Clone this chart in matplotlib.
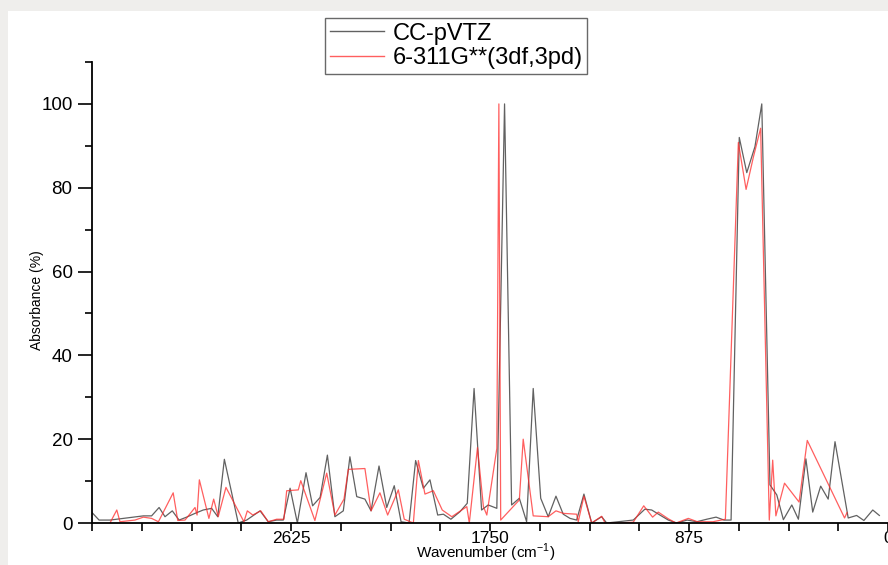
import matplotlib
matplotlib.use("Agg")
import matplotlib.pyplot as plt
from matplotlib.patches import Rectangle
from matplotlib.ticker import FixedLocator

plt.rcParams['font.family'] = ['Liberation Sans', 'DejaVu Sans']
plt.rcParams['mathtext.fontset'] = 'custom'
plt.rcParams['mathtext.rm'] = 'Liberation Sans'

# CC-pVTZ spectrum (wavenumber, absorbance %)
cc_wn = [3500, 3469, 3421, 3274, 3238, 3205, 3179, 3147, 3117, 3084, 3047, 3011, 2974, 2947,
         2918, 2857, 2820, 2761, 2725, 2688, 2659, 2629, 2597, 2559, 2530, 2497, 2465, 2432,
         2395, 2366, 2336, 2300, 2273, 2238, 2204, 2171, 2141, 2106, 2077, 2043, 2014, 1980,
         1955, 1922, 1882, 1850, 1820, 1787, 1758, 1720, 1686, 1655, 1621, 1589, 1560, 1527,
         1494, 1460, 1428, 1398, 1369, 1337, 1303, 1259, 1237, 1120, 1069, 1039, 1003, 966,
         929, 883, 841, 797, 756, 721, 690, 654, 621, 585, 555, 519, 489, 460, 423, 394, 361,
         331, 296, 263, 233, 175, 138, 106, 67, 38]
cc_ab = [2.5, 0.7, 0.7, 1.7, 1.7, 3.7, 1.5, 2.9, 0.7, 1.4, 2.3, 3.1, 3.5, 1.5,
         15.2, 0.0, 0.7, 2.9, 0.3, 0.7, 0.7, 8.3, 0.0, 12.0, 4.1, 6.1, 16.2, 1.5,
         2.9, 15.8, 6.3, 5.7, 2.9, 13.6, 3.7, 8.9, 0.3, 0.0, 14.9, 8.3, 10.3, 1.9,
         2.1, 0.9, 2.7, 4.7, 32.1, 3.1, 4.3, 3.5, 100.0, 4.3, 5.9, 0.3, 32.1, 5.9,
         1.5, 6.4, 2.1, 1.1, 0.7, 6.9, 0.0, 1.5, 0.0, 0.7, 3.3, 3.1, 1.9, 0.7,
         0.0, 0.7, 0.3, 0.9, 1.4, 0.7, 0.7, 92.0, 83.6, 89.8, 100.0, 9.1, 6.7, 0.8, 4.3, 0.9, 15.3,
         2.6, 8.8, 5.7, 19.4, 1.2, 1.8, 0.6, 3.1, 1.8]

# 6-311G**(3df,3pd) spectrum
pg_wn = [3421, 3391, 3377, 3311, 3274, 3238, 3208, 3143, 3123, 3091, 3047, 3038, 3028, 2986,
         2965, 2945, 2911, 2832, 2817, 2793, 2758, 2725, 2688, 2656, 2644, 2593, 2582, 2520,
         2468, 2432, 2392, 2373, 2300, 2273, 2234, 2200, 2153, 2127, 2087, 2065, 2036, 1999,
         1960, 1918, 1852, 1841, 1805, 1779, 1764, 1720, 1711, 1703, 1621, 1604, 1560, 1494,
         1460, 1428, 1369, 1362, 1337, 1303, 1259, 1244, 1178, 1120, 1074, 1035, 1010, 966,
         932, 878, 838, 770, 715, 658, 624, 592, 560, 522, 507, 493, 455, 391, 355, 191, 180]
pg_ab = [0.0, 3.1, 0.3, 0.7, 1.4, 1.1, 0.3, 7.2, 0.6, 0.7, 3.7, 1.9, 10.3, 1.1,
         5.7, 1.5, 8.5, 0.3, 2.9, 1.9, 2.9, 0.3, 0.9, 0.9, 7.7, 7.9, 10.1, 0.6,
         11.9, 1.9, 5.7, 12.8, 13.0, 2.9, 7.2, 1.9, 7.9, 0.9, 0.0, 14.9, 6.9, 7.7,
         3.1, 1.5, 3.9, 0.0, 18.0, 3.9, 1.9, 17.8, 100.0, 0.7, 5.5, 20.0, 1.7, 1.5,
         2.9, 2.3, 2.1, 0.3, 6.4, 0.0, 1.6, 0.0, 0.0, 0.2, 4.1, 1.4, 2.6, 1.0,
         0.0, 1.1, 0.3, 0.3, 0.9, 90.8, 79.6, 87.3, 94.2, 0.7, 15.0, 1.7, 9.5, 5.0, 19.7, 1.2, 2.5]

series_labels = ['CC-pVTZ', '6-311G**(3df,3pd)']
x_major = [2625, 1750, 875, 0]
x_major_labels = ['2625', '1750', '875', '0']
y_major = [0, 20, 40, 60, 80, 100]

W, H = 888, 565
fig = plt.figure(figsize=(W / 100, H / 100), dpi=100)
fig.patch.set_facecolor('#efeeec')
fig.add_artist(Rectangle((8 / W, 0), 1, 1 - 11 / H, transform=fig.transFigure,
                         facecolor='white', edgecolor='none', zorder=0))

ax = fig.add_axes([92 / W, 42 / H, (W - 92) / W, (523 - 62) / H])
ax.patch.set_alpha(0)

l1, = ax.plot(cc_wn, cc_ab, color='#3a3a3a', lw=0.9, alpha=0.8, label=series_labels[0])
l2, = ax.plot(pg_wn, pg_ab, color='#ff2a2a', lw=0.9, alpha=0.75, label=series_labels[1])

ax.set_xlim(3500, 0)
ax.set_ylim(0, 110)
for s in ['top', 'right']:
    ax.spines[s].set_visible(False)
for s in ['left', 'bottom']:
    ax.spines[s].set_linewidth(1.3)

ax.set_xticks(x_major)
ax.set_xticklabels(x_major_labels)
ax.xaxis.set_minor_locator(FixedLocator([3500 - 218.75 * i for i in range(17) if i % 4 != 0] + [3500]))
ax.set_yticks(y_major)
ax.yaxis.set_minor_locator(FixedLocator([10, 30, 50, 70, 90, 110]))
ax.tick_params(axis='both', which='both', direction='out', width=1.2, colors='black')
ax.tick_params(axis='y', which='major', length=10, pad=4, labelsize=13.5)
ax.tick_params(axis='y', which='minor', length=5)
ax.tick_params(axis='x', which='both', length=6, pad=0, labelsize=12.5)

ax.set_xlabel(r'Wavenumber (cm$^{\mathregular{-1}}$)', fontsize=11)
ax.xaxis.set_label_coords(0.495, -(564.5 - 523) / 461)
ax.xaxis.label.set_verticalalignment('bottom')
ax.set_ylabel('Absorbance (%)', fontsize=10)
ax.yaxis.set_label_coords(-(92 - 37) / 796, (523 - 300) / 461)
ax.yaxis.label.set_verticalalignment('center')

leg = fig.legend(handles=[l1, l2], loc='upper left', bbox_to_anchor=(325 / W, 1 - 18 / H),
                 frameon=True, fancybox=False, edgecolor='#444444', fontsize=17,
                 handlelength=2.3, handletextpad=0.35, labelspacing=0.1, borderpad=0.2,
                 borderaxespad=0)
leg.get_frame().set_linewidth(1.0)
for lh in leg.get_lines():
    lh.set_linewidth(1.0)

fig.savefig('out.png', dpi=100)
